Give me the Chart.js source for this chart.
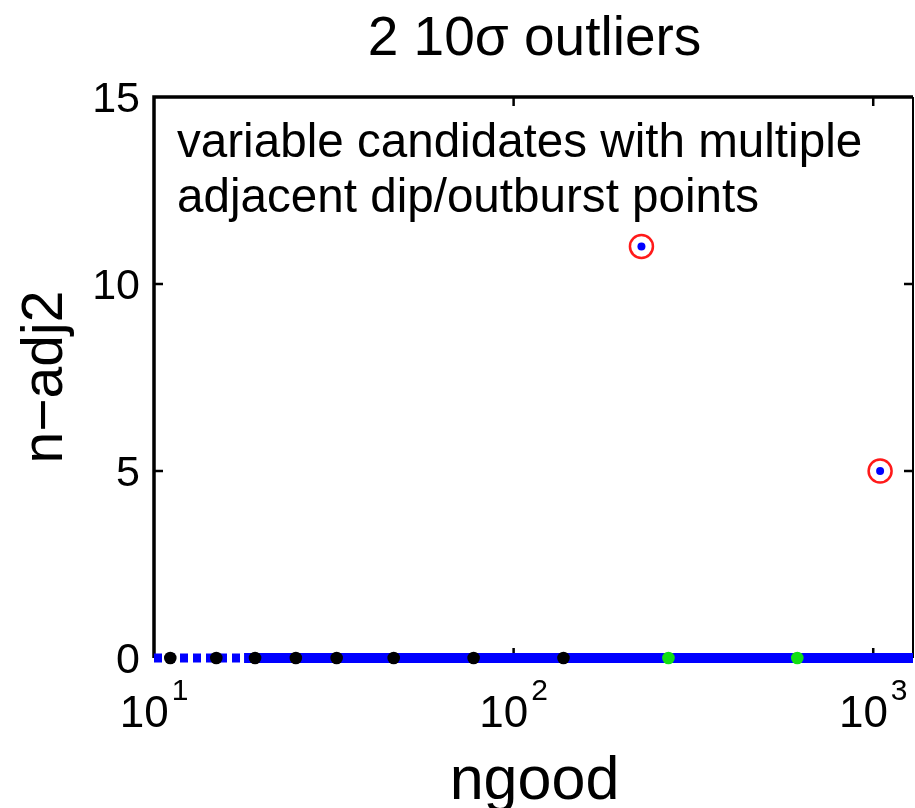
<!DOCTYPE html>
<html>
<head>
<meta charset="utf-8">
<script src="https://cdn.jsdelivr.net/npm/chart.js@4/dist/chart.umd.min.js"></script>
<style>
  html, body { margin: 0; padding: 0; background: #fff; }
</style>
</head>
<body>
<canvas id="chart" width="915" height="808"></canvas>
<script>
// labels
const TITLE = '2 10\u03c3 outliers';
const X_LABEL = 'ngood';
const Y_LABEL = 'n\u2212adj2';
const NOTE_LINES = ['variable candidates with multiple', 'adjacent dip/outburst points'];

// axis ticks
const X_TICK_EXPONENTS = [1, 2, 3];
const Y_TICKS = [0, 5, 10, 15];

// all candidates: dense band along n-adj2 = 0 (sparse at the low end)
const allSparseNgood = [10, 17.8];
const allSparseNadj = [0, 0];
const allDenseNgood = [17.8, 1290];
const allDenseNadj = [0, 0];

// black markers
const blackNgood = [11.1, 14.9, 19.1, 24.8, 32.2, 46.4, 77.4, 137.6];
const blackNadj = [0, 0, 0, 0, 0, 0, 0, 0];

// green markers
const greenNgood = [269.5, 615];
const greenNadj = [0, 0];

// the 2 outliers (red ring + blue centre)
const outlierNgood = [226.7, 1045];
const outlierNadj = [11, 5];

const FONT = '"Liberation Sans", Arial, Helvetica, sans-serif';

function zip(xs, ys) {
    return xs.map((v, i) => ({ x: v, y: ys[i] }));
}

const frame = {
    id: 'frame',
    beforeDatasetsDraw(chart) {
        const { ctx, chartArea: a, scales: { x, y } } = chart;
        ctx.save();
        ctx.strokeStyle = '#000';
        ctx.lineWidth = 3.5;
        ctx.beginPath();
        ctx.moveTo(a.left, a.bottom);
        ctx.lineTo(a.left, a.top);
        ctx.lineTo(a.right, a.top);
        ctx.stroke();
        ctx.lineWidth = 2;
        ctx.beginPath();
        ctx.moveTo(a.right, a.top);
        ctx.lineTo(a.right, a.bottom);
        ctx.stroke();

        // inward ticks, MATLAB style
        ctx.lineWidth = 2.5;
        ctx.beginPath();
        Y_TICKS.slice(1, -1).forEach(v => {
            const py = y.getPixelForValue(v);
            ctx.moveTo(a.left, py);
            ctx.lineTo(a.left + 9, py);
            ctx.moveTo(a.right, py);
            ctx.lineTo(a.right - 9, py);
        });
        X_TICK_EXPONENTS.slice(1).forEach(e => {
            const px = x.getPixelForValue(Math.pow(10, e));
            ctx.moveTo(px, a.bottom);
            ctx.lineTo(px, a.bottom - 10);
            ctx.moveTo(px, a.top);
            ctx.lineTo(px, a.top + 9);
        });
        ctx.stroke();
        ctx.restore();
    },
    afterDraw(chart) {
        const { ctx, chartArea: a, scales: { x } } = chart;
        const cx = (a.left + a.right) / 2;
        ctx.save();
        ctx.fillStyle = '#000';
        ctx.textBaseline = 'alphabetic';

        // title
        ctx.textAlign = 'center';
        ctx.font = `55px ${FONT}`;
        ctx.fillText(TITLE, cx + 1, 55);

        // annotation inside the axes
        ctx.textAlign = 'left';
        ctx.font = `47.6px ${FONT}`;
        NOTE_LINES.forEach((line, i) => ctx.fillText(line, 177, 157 + i * 55));

        // x tick labels 10^n
        X_TICK_EXPONENTS.forEach(e => {
            const px = x.getPixelForValue(Math.pow(10, e));
            ctx.font = `44px ${FONT}`;
            const wBase = ctx.measureText('10').width;
            ctx.font = `30px ${FONT}`;
            const wSup = ctx.measureText(String(e)).width;
            const start = px - (wBase + 3 + wSup) / 2;
            ctx.textAlign = 'left';
            ctx.font = `44px ${FONT}`;
            ctx.fillText('10', start, 727);
            ctx.font = `30px ${FONT}`;
            ctx.fillText(String(e), start + wBase + 3, 700);
        });

        // axis titles
        ctx.textAlign = 'center';
        ctx.font = `61px ${FONT}`;
        ctx.fillText(X_LABEL, cx + 1, 799);

        ctx.translate(46, 377);
        ctx.rotate(-Math.PI / 2);
        ctx.textBaseline = 'middle';
        ctx.font = `57px ${FONT}`;
        ctx.fillText(Y_LABEL, 0, 0);
        ctx.restore();
    }
};

new Chart(document.getElementById('chart'), {
    type: 'scatter',
    data: {
        datasets: [
            {
                label: 'outlier centre',
                data: zip(outlierNgood, outlierNadj),
                pointRadius: 4,
                pointBackgroundColor: '#0000ff',
                pointBorderWidth: 0,
                clip: false
            },
            {
                label: 'outlier ring',
                data: zip(outlierNgood, outlierNadj),
                pointRadius: 11.5,
                pointBackgroundColor: 'rgba(0,0,0,0)',
                pointBorderColor: '#ff1a1a',
                pointBorderWidth: 2.5,
                clip: false
            },
            {
                label: 'green',
                data: zip(greenNgood, greenNadj),
                pointRadius: 6.3,
                pointBackgroundColor: '#12e012',
                pointBorderWidth: 0,
                clip: false
            },
            {
                label: 'black',
                data: zip(blackNgood, blackNadj),
                pointRadius: 6.3,
                pointBackgroundColor: '#000',
                pointBorderWidth: 0,
                clip: false
            },
            {
                label: 'all dense',
                data: zip(allDenseNgood, allDenseNadj),
                showLine: true,
                pointRadius: 0,
                borderColor: '#0000ff',
                borderWidth: 10,
                borderCapStyle: 'butt',
                clip: false
            },
            {
                label: 'all sparse',
                data: zip(allSparseNgood, allSparseNadj),
                showLine: true,
                pointRadius: 0,
                borderColor: '#0000ff',
                borderWidth: 9,
                borderDash: [8, 5],
                borderCapStyle: 'butt',
                clip: false
            }
        ]
    },
    options: {
        responsive: false,
        animation: false,
        events: [],
        layout: { padding: { top: 97, right: 2, left: 0, bottom: 0 }, autoPadding: false },
        plugins: { legend: { display: false }, tooltip: { enabled: false }, title: { display: false } },
        scales: {
            x: {
                type: 'logarithmic',
                min: 10,
                max: 1290,
                grid: { display: false },
                border: { display: false },
                ticks: { display: false },
                afterFit(scale) { scale.height = 150; }
            },
            y: {
                type: 'linear',
                min: 0,
                max: 15,
                grid: { display: false, drawTicks: false },
                border: { display: false },
                ticks: {
                    stepSize: 5,
                    padding: 14,
                    labelOffset: 3,
                    color: '#000',
                    font: { family: FONT, size: 43 }
                },
                afterFit(scale) { scale.width = 154; }
            }
        }
    },
    plugins: [frame]
});
</script>
</body>
</html>
